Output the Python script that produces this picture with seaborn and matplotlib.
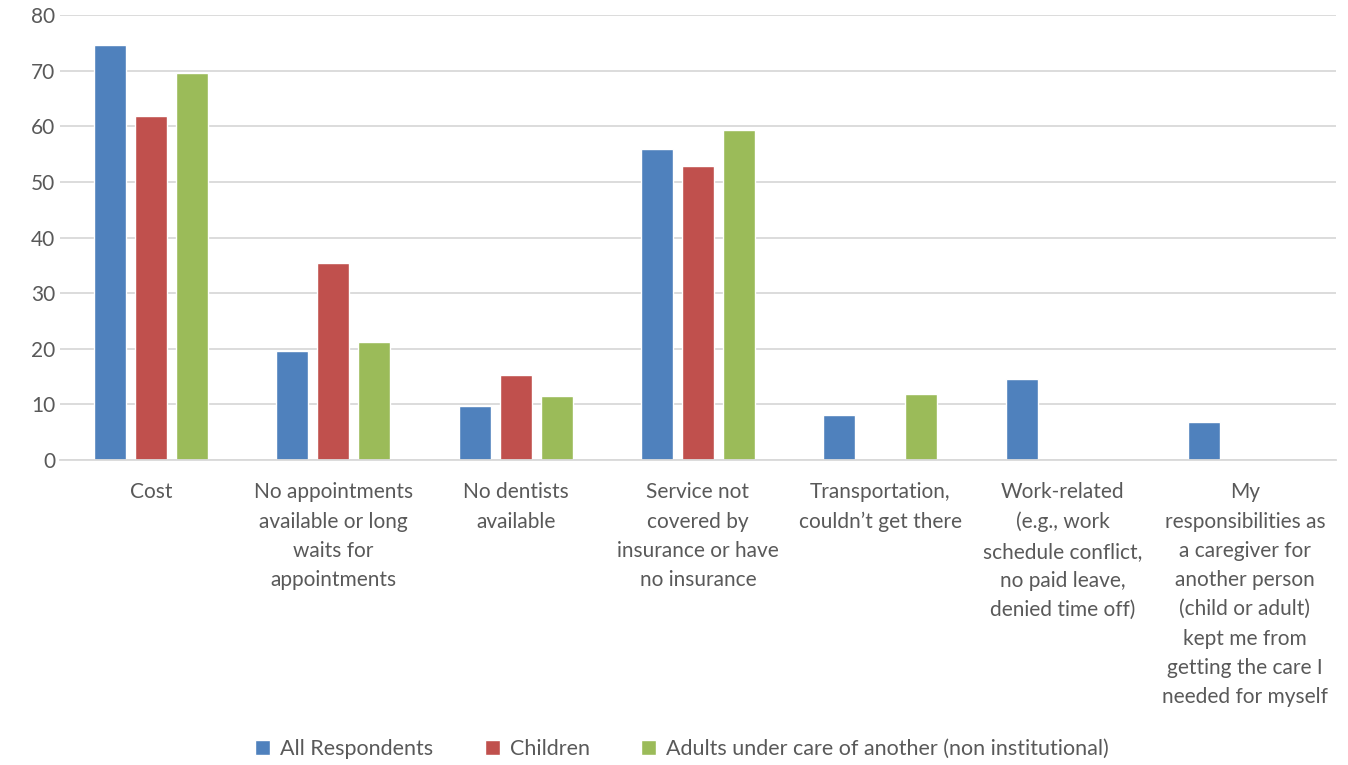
import matplotlib
matplotlib.use("Agg")
import matplotlib.pyplot as plt
import seaborn as sns
import pandas as pd
import numpy as np

categories = [
    "Cost",
    "No appointments\navailable or long\nwaits for\nappointments",
    "No dentists\navailable",
    "Service not\ncovered by\ninsurance or have\nno insurance",
    "Transportation,\ncouldn\u2019t get there",
    "Work-related\n(e.g., work\nschedule conflict,\nno paid leave,\ndenied time off)",
    "My\nresponsibilities as\na caregiver for\nanother person\n(child or adult)\nkept me from\ngetting the care I\nneeded for myself",
]
series = ["All Respondents", "Children", "Adults under care of another (non institutional)"]
all_resp = [74.6, 19.6, 9.7, 55.9, 8.1, 14.6, 6.8]
children = [61.8, 35.4, 15.3, 52.9, np.nan, np.nan, np.nan]
adults = [69.6, 21.2, 11.5, 59.3, 11.9, np.nan, np.nan]
yticks = [0, 10, 20, 30, 40, 50, 60, 70, 80]
colors = ["#4F81BD", "#C0504D", "#9BBB59"]

rows = []
for vals, s in zip([all_resp, children, adults], series):
    for c, v in zip(categories, vals):
        rows.append({"category": c, "series": s, "value": v})
df = pd.DataFrame(rows)

sns.set_theme(style="white")
plt.rcParams["font.family"] = ["Lato", "DejaVu Sans"]

fig = plt.figure(figsize=(13.48, 7.65), dpi=100)
ax = fig.add_axes([60 / 1348, 1 - 460 / 765, 1276 / 1348, 445 / 765])

sns.barplot(data=df, x="category", y="value", hue="series", order=categories,
            hue_order=series, palette=colors, width=0.675, gap=0.22,
            saturation=1, ax=ax, legend=True)

ax.set_ylim(0, 80)
ax.set_yticks(yticks)
ax.set_xlim(-0.5, len(categories) - 0.5)
ax.yaxis.grid(True, color="#D9D9D9", linewidth=1.3)
ax.set_axisbelow(True)
for side in ["left", "right", "top"]:
    ax.spines[side].set_visible(False)
ax.spines["bottom"].set_color("#D9D9D9")
ax.spines["bottom"].set_linewidth(1.3)
ax.set_xlabel("")
ax.set_ylabel("")
ax.tick_params(axis="both", length=0, labelsize=15, colors="#595959")
ax.tick_params(axis="x", pad=16)
for lbl in ax.get_xticklabels():
    lbl.set_linespacing(1.58)

handles, labels = ax.get_legend_handles_labels()
ax.legend(handles, labels, loc="lower center", bbox_to_anchor=(0.5 - 16 / 1276, -0.715),
          ncol=3, frameon=False, fontsize=15.5, handlelength=0.7, handleheight=0.7,
          handletextpad=0.45, columnspacing=2.4, labelcolor="#595959")

fig.savefig("out.png", dpi=100)
